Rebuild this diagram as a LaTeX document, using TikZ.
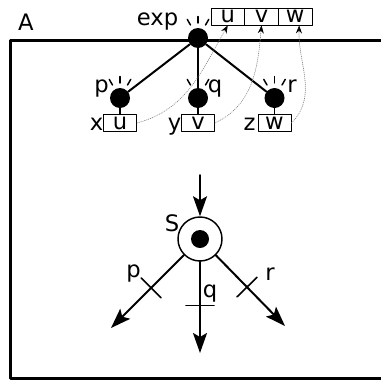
\documentclass[tikz,border=0pt]{standalone}
\usepackage{fontspec}
\setmainfont{DejaVu Sans}
\usetikzlibrary{arrows.meta}

\begin{document}
\begin{tikzpicture}[x=0.75pt, y=0.75pt, line cap=round, line join=round,
  font=\fontsize{17}{20}\selectfont,
  dot/.style={circle, fill=black, inner sep=0pt, minimum size=15pt},
  cell/.style={draw, line width=0.6pt, inner sep=0pt, minimum width=25.3pt, minimum height=12.75pt},
  slot/.style={draw, line width=0.6pt, inner sep=0pt, minimum width=24.75pt, minimum height=12.5pt},
  lbl/.style={inner sep=0pt, anchor=base},
  branch/.style={line width=1.5pt},
  ray/.style={line width=1.1pt},
  link/.style={gray, densely dotted, line width=0.5pt, -{Stealth[black, length=6pt, width=4.5pt]}},
  flow/.style={line width=1.5pt, -{Stealth[length=15pt, width=10.5pt, inset=3pt]}},
  cross/.style={draw, sloped, line width=1.2pt, inner sep=0pt, outer sep=0pt, minimum width=0pt, minimum height=21pt}]
	% Window of the picture
	\clip (0,0) rectangle (381,380);
	
	% Frame of A, cut off on the right
	\draw[line width=2.25pt] (10,2) rectangle (430,340);
	\node[lbl] (A) at (26,350) {A};
	
	% Part 1: the expression tree
	\node[dot] (exp) at (198,342) {};
	\node[lbl] (explbl) at (157.5,355) {exp};
	
	% Record u | v | w
	\node[cell] (cellu) at (227.8,363.5) {u};
	\node[cell] (cellv) at (261.5,363.5) {v};
	\node[cell] (cellw) at (295.2,363.5) {w};
	
	% Children
	\node[dot] (p) at (120,282) {};
	\node[dot] (q) at (198,282) {};
	\node[dot] (r) at (274.5,282) {};
	\node[lbl] (plbl) at (101.5,288) {p};
	\node[lbl] (qlbl) at (215,288) {q};
	\node[lbl] (rlbl) at (292,288) {r};
	
	\draw[branch] (exp) -- (p);
	\draw[branch] (exp) -- (q);
	\draw[branch] (exp) -- (r);
	
	% Rays above each node
	\foreach \n in {exp,p,q,r}
		\foreach \a in {60,90,120}
			\draw[ray] (\n) ++(\a:15) -- ++(\a:6.5);
	
	% Slots below the children
	\node[slot] (xbox) at (120,257) {u};
	\node[slot] (ybox) at (198,257) {v};
	\node[slot] (zbox) at (274.5,257) {w};
	\node[lbl] (xlbl) at (96.5,250) {x};
	\node[lbl] (ylbl) at (174.5,250) {y};
	\node[lbl] (zlbl) at (249.5,250) {z};
	
	\draw[ray] (p) -- (xbox);
	\draw[ray] (q) -- (ybox);
	\draw[ray] (r) -- (zbox);
	
	% Dotted links up to the record
	\draw[link] (xbox.east) to[out=15, in=-120] (cellu.south);
	\draw[link] (ybox.east) to[out=25, in=-95] (cellv.south);
	\draw[link] (zbox.east) to[out=45, in=-92] ([xshift=3pt]cellw.south);
	
	% Part 2: the state S
	\node[circle, draw, line width=1.1pt, minimum size=33pt, inner sep=0pt] (S) at (200,141) {};
	\node[dot, minimum size=13.5pt] (Sdot) at (S) {};
	\node[lbl] (Slbl) at (172,149) {S};
	
	\coordinate (Sin) at (200,205);
	\coordinate (pout) at (111,52);
	\coordinate (qout) at (200,27);
	\coordinate (rout) at (285,54);
	
	\draw[flow] (Sin) -- (S);
	\draw[flow] (S) -- node[cross, pos=.45]{} (pout);
	\draw[flow] (S) -- node[cross, pos=.48]{} (qout);
	\draw[flow] (S) -- node[cross, pos=.45]{} (rout);
	
	% Labels of the outgoing arrows
	\node[lbl] (plow) at (133.5,103) {p};
	\node[lbl] (qlow) at (210,83) {q};
	\node[lbl] (rlow) at (270,100) {r};
\end{tikzpicture}
\end{document}
